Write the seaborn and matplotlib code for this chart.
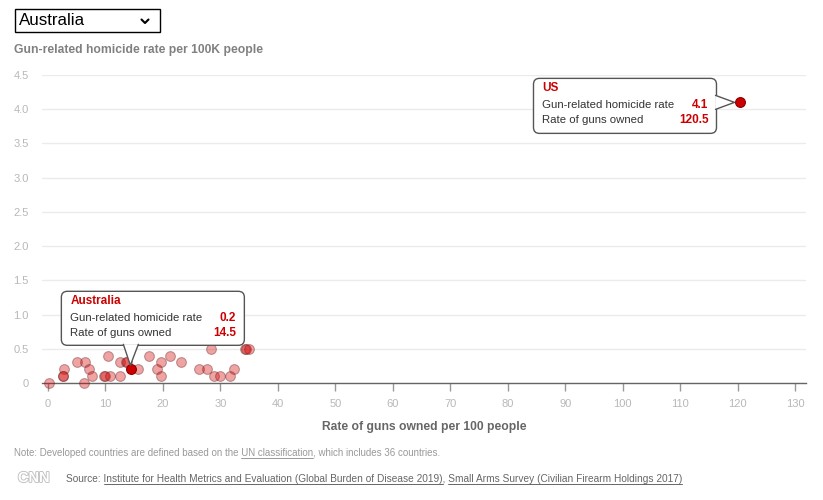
import matplotlib
matplotlib.use("Agg")
import matplotlib.pyplot as plt
import matplotlib.patches as mpatches
import matplotlib.lines as mlines
import matplotlib.patheffects as pe
from matplotlib.font_manager import FontProperties
from matplotlib.ticker import FuncFormatter
from matplotlib.transforms import IdentityTransform
import pandas as pd
import seaborn as sns

# developed countries (other than the highlighted ones)
guns_per_100 = [0.2, 2.7, 2.6, 2.6, 5.0, 6.5, 6.3, 7.2, 7.6, 9.8, 10.0, 10.7,
                10.5, 12.6, 12.6, 13.6, 13.7, 15.6, 17.6, 18.9, 19.7, 19.7,
                21.3, 23.1, 26.3, 27.7, 28.3, 28.8, 30.0, 31.7, 32.4, 34.3,
                34.4, 34.9]
homicide_rate = [0.0, 0.2, 0.1, 0.1, 0.3, 0.3, 0.0, 0.2, 0.1, 0.1, 0.1, 0.1,
                 0.4, 0.3, 0.1, 0.3, 0.3, 0.2, 0.4, 0.2, 0.3, 0.1,
                 0.4, 0.3, 0.2, 0.2, 0.5, 0.1, 0.1, 0.1, 0.2, 0.5,
                 0.5, 0.5]

highlight_names = ["US", "Australia"]
highlight_guns = [120.5, 14.5]
highlight_rate = [4.1, 0.2]
selected = "Australia"

x_ticks = list(range(0, 131, 10))
y_ticks = [0, 0.5, 1.0, 1.5, 2.0, 2.5, 3.0, 3.5, 4.0, 4.5]

RED = "#cc0000"
W, H = 823, 500

sns.set_style("white")
plt.rcParams["font.family"] = ["Liberation Sans", "DejaVu Sans"]

df = pd.DataFrame({
    "guns": guns_per_100 + highlight_guns,
    "rate": homicide_rate + highlight_rate,
    "hl": [False] * len(guns_per_100) + [True] * len(highlight_guns),
})

fig = plt.figure(figsize=(8.23, 5.0), dpi=100)
ax = fig.add_axes([42 / W, 1 - 383 / H, (806 - 42) / W, (383 - 75) / H])

sns.scatterplot(data=df[~df.hl], x="guns", y="rate", s=50, color="#d40000",
                alpha=0.36, edgecolor="#5a1a1a", linewidth=0.8, ax=ax,
                clip_on=False, zorder=3, legend=False)
sns.scatterplot(data=df[df.hl], x="guns", y="rate", s=50, color=RED,
                alpha=1, edgecolor="#8a0000", linewidth=0.8, ax=ax,
                clip_on=False, zorder=4, legend=False)

ax.set_xlim(-1.05, 131.9)
ax.set_ylim(0, 4.5)
ax.set_xticks(x_ticks)
ax.set_yticks(y_ticks)
ax.yaxis.set_major_formatter(FuncFormatter(lambda v, p: "0" if v == 0 else f"{v:.1f}"))
ax.grid(axis="y", color="#ebebeb", linewidth=1)
ax.grid(axis="x", visible=False)
ax.set_axisbelow(True)
for s in ["top", "right", "left"]:
    ax.spines[s].set_visible(False)
ax.spines["bottom"].set_color("#666")
ax.spines["bottom"].set_linewidth(1)
ax.tick_params(axis="x", bottom=True, length=6, width=1, color="#999", pad=5.5,
               labelsize=8, labelcolor="#b8b8b8", direction="out")
ax.tick_params(axis="y", left=False, length=0, pad=9.5, labelsize=8,
               labelcolor="#b8b8b8")
ax.set_xlabel("Rate of guns owned per 100 people", fontsize=8.7,
              fontweight="bold", color="#666", labelpad=8.5)
ax.set_ylabel("")

ident = IdentityTransform()


def tooltip(name, gx, rate, left, right, top, bottom, base1, base2, tip):
    # offsets are in pixels relative to the data point (y measured upward)
    X, Y = ax.transData.transform((gx, rate))
    box = mpatches.FancyBboxPatch((X + left, Y + bottom), right - left, top - bottom,
                                  boxstyle="round,pad=0,rounding_size=6",
                                  fc="white", ec="#555", lw=1, transform=ident,
                                  zorder=5)
    fig.add_artist(box)
    pts = [(X + base1[0], Y + base1[1]), (X + tip[0], Y + tip[1]), (X + base2[0], Y + base2[1])]
    fig.add_artist(mpatches.Polygon(pts, closed=True, fc="white", ec="none",
                                    transform=ident, zorder=6))
    fig.add_artist(mlines.Line2D([p[0] for p in pts], [p[1] for p in pts],
                                 color="#555", lw=1, transform=ident, zorder=7))
    x0, x1, yt = X + left + 9, X + right - 8, Y + top
    fig.text(x0, yt - 10, name, color=RED, fontsize=8.5, fontweight="bold",
             va="center", transform=ident, zorder=8)
    rows = [("Gun-related homicide rate", f"{rate:.1f}"),
            ("Rate of guns owned", f"{gx:.1f}")]
    for i, (lab, val) in enumerate(rows):
        yy = yt - 26.5 - 15.5 * i
        fig.text(x0, yy, lab, color="#333", fontsize=8.2, va="center",
                 transform=ident, zorder=8)
        fig.text(x1, yy, val, color=RED, fontsize=8.5, fontweight="bold",
                 va="center", ha="right", transform=ident, zorder=8)


tooltip(highlight_names[0], highlight_guns[0], highlight_rate[0],
        left=-207, right=-24, top=24, bottom=-31,
        base1=(-25, 7), base2=(-25, -7), tip=(-6, 0))
tooltip(highlight_names[1], highlight_guns[1], highlight_rate[1],
        left=-70, right=113, top=78, bottom=24,
        base1=(-8, 25), base2=(7, 25), tip=(-1, 4))

# dropdown selector
fig.add_artist(mpatches.Rectangle((14.5, H - 32), 145.5, 23.5, fc="white",
                                  ec="black", lw=1, transform=ident))
fig.text(19, H - 20.5, selected, fontsize=12.2, color="black", va="center",
         transform=ident)
fig.add_artist(mlines.Line2D([141.5, 145, 148.5], [H - 19.5, H - 23, H - 19.5],
                             color="black", lw=1.5, transform=ident))

# y-axis title
fig.text(14, H - 50, "Gun-related homicide rate per 100K people", fontsize=8.7,
         fontweight="bold", color="#808080", va="center", transform=ident)

renderer = fig.canvas.get_renderer()


def text_width(s, size):
    prop = FontProperties(family=["Liberation Sans", "DejaVu Sans"], size=size)
    w1 = renderer.get_text_width_height_descent(s + "x", prop, ismath=False)[0]
    w2 = renderer.get_text_width_height_descent("x", prop, ismath=False)[0]
    return w1 - w2


def link_line(x, y, parts, size, color):
    full = "".join(p for p, _ in parts)
    fig.text(x, y, full, fontsize=size, color=color, va="baseline",
             transform=ident)
    prefix = ""
    for p, under in parts:
        if under:
            xs = x + text_width(prefix, size)
            xe = xs + text_width(p, size)
            fig.add_artist(mlines.Line2D([xs, xe], [y - 2, y - 2], color=color,
                                         lw=0.7, transform=ident))
        prefix += p


link_line(14, H - 455.5, [("Note: Developed countries are defined based on the ", False),
                          ("UN classification", True),
                          (", which includes 36 countries.", False)], 7.0, "#999")
link_line(66, H - 481.5, [("Source: ", False),
                          ("Institute for Health Metrics and Evaluation (Global Burden of Disease 2019)", True),
                          (", ", False),
                          ("Small Arms Survey (Civilian Firearm Holdings 2017)", True)], 7.3, "#666")

fig.text(18, H - 478, "CNN", fontsize=10.5, fontweight="bold", color="white",
         va="center", transform=ident,
         path_effects=[pe.withStroke(linewidth=1.3, foreground="#c0c0c0")])

fig.savefig("out.png", dpi=100)
